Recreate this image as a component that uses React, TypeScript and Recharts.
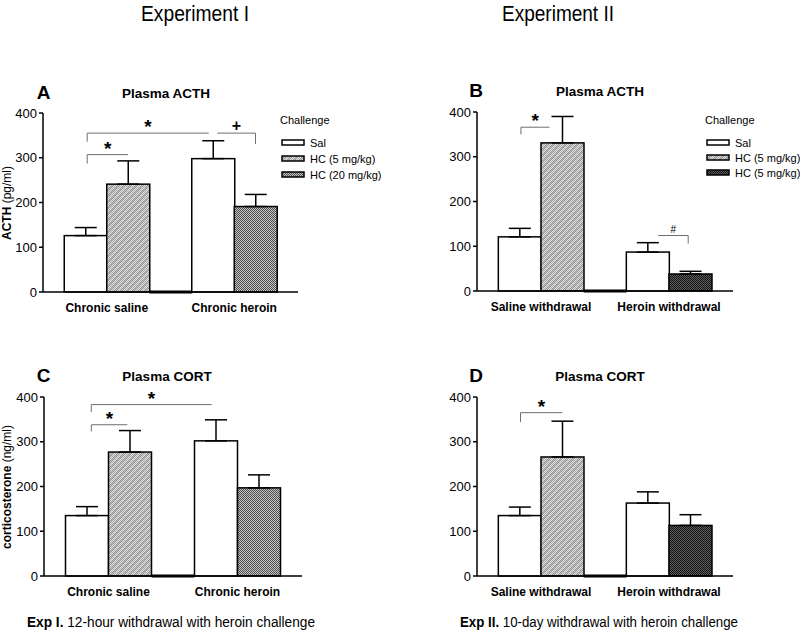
import React from 'react';
import { BarChart, Bar, XAxis, YAxis, ErrorBar, ReferenceLine, Legend, Cell } from 'recharts';

// ---------- data ----------
const positions = [0, 1, 2, 3, 4];

// Panel A: Experiment I, plasma ACTH (pg/ml)
const groupsA = ['Chronic saline', 'Chronic heroin'];
const meansA = [126, 241, 0, 298, 191];
const semA = [18, 52, 0, 40, 27];
const fillsA = ['sal', 'hc5', 'none', 'sal', 'hc20'];

// Panel B: Experiment II, plasma ACTH (pg/ml)
const groupsB = ['Saline withdrawal', 'Heroin withdrawal'];
const meansB = [121, 331, 0, 87, 38];
const semB = [19, 59, 0, 21, 6];
const fillsB = ['sal', 'hc5', 'none', 'sal', 'dark'];

// Panel C: Experiment I, corticosterone (ng/ml)
const groupsC = ['Chronic saline', 'Chronic heroin'];
const meansC = [135, 277, 0, 302, 197];
const semC = [20, 48, 0, 47, 29];
const fillsC = ['sal', 'hc5', 'none', 'sal', 'hc20'];

// Panel D: Experiment II, corticosterone (ng/ml)
const groupsD = ['Saline withdrawal', 'Heroin withdrawal'];
const meansD = [135, 266, 0, 163, 113];
const semD = [19, 80, 0, 25, 24];
const fillsD = ['sal', 'hc5', 'none', 'sal', 'dark'];

const yTicks = [0, 100, 200, 300, 400];

// significance brackets (x in bar-position units, y in data units)
const bracketsA = [
  { from: 0.04, to: 1.0, y: 307, leg: 0.04, legTo: 287, mark: '*' },
  { from: 0.04, to: 2.9, y: 355, leg: 0.04, legTo: 336, mark: '*' },
  { from: 3.1, to: 4.0, y: 355, leg: 4.0, legTo: 331, mark: '+' },
];
const bracketsB = [
  { from: 0.03, to: 0.7, y: 366, leg: 0.03, legTo: 350, mark: '*' },
  { from: 3.25, to: 3.95, y: 124, leg: 3.95, legTo: 106, mark: '#' },
];
const bracketsC = [
  { from: 0.1, to: 0.94, y: 338, leg: 0.1, legTo: 323, mark: '*' },
  { from: 0.1, to: 2.9, y: 383, leg: 0.1, legTo: 366, mark: '*' },
];
const bracketsD = [
  { from: 0.02, to: 1.0, y: 365, leg: 0.02, legTo: 344, mark: '*' },
];

const legendA = [
  { key: 'sal', label: 'Sal' },
  { key: 'hc5', label: 'HC (5 mg/kg)' },
  { key: 'hc20', label: 'HC (20 mg/kg)' },
];
const legendB = [
  { key: 'sal', label: 'Sal' },
  { key: 'hc5', label: 'HC (5 mg/kg)' },
  { key: 'dark', label: 'HC (5 mg/kg)' },
];

// ---------- styling ----------
const FONT = '"Liberation Sans", Arial, Helvetica, sans-serif';
const fillUrl: Record<string, string> = {
  sal: '#ffffff',
  hc5: 'url(#pat-hc5)',
  hc20: 'url(#pat-hc20)',
  dark: 'url(#pat-dark)',
  none: '#000000',
};

const checker = (size: number, color: string) => {
  const out: JSX.Element[] = [];
  for (let i = 0; i < size; i++) {
    for (let j = 0; j < size; j++) {
      if ((i + j) % 2 === 0) out.push(<rect key={i + '-' + j} x={i} y={j} width={1} height={1} fill={color} />);
    }
  }
  return out;
};

const Patterns = () => (
  <svg width={0} height={0} style={{ position: 'absolute' }}>
    <defs>
      <pattern id="pat-hc5" width={6} height={6} patternUnits="userSpaceOnUse">
        <rect width={6} height={6} fill="#e4e4e4" />
        {checker(6, '#a6a6a6')}
        <path d="M-1,1 L1,-1 M0,6 L6,0 M5,7 L7,5" stroke="rgba(90,90,90,0.35)" strokeWidth={1.4} />
      </pattern>
      <pattern id="pat-hc20" width={4} height={4} patternUnits="userSpaceOnUse">
        <rect width={4} height={4} fill="#c4c4c4" />
        {checker(4, '#4e4e4e')}
      </pattern>
      <pattern id="pat-dark" width={4} height={4} patternUnits="userSpaceOnUse">
        <rect width={4} height={4} fill="#5c5c5c" />
        {checker(4, '#151515')}
      </pattern>
    </defs>
  </svg>
);

const BarShape = (props: any) => {
  const { x, y, width, height, fill } = props;
  if (!height || Math.abs(height) < 0.5) {
    return <line x1={x} x2={x + width} y1={y} y2={y} stroke="#000" strokeWidth={3} />;
  }
  return <rect x={x} y={y} width={width} height={height} fill={fill} stroke="#000" strokeWidth={1.5} />;
};

type LegendItem = { key: string; label: string };
const makeLegend = (items: LegendItem[], rowGap: number) => () => (
  <svg width={130} height={80} style={{ overflow: 'visible', fontFamily: FONT }}>
    <text x={2} y={10} fontSize={11} dominantBaseline="central" fill="#000">Challenge</text>
    {items.map((it, i) => (
      <g key={i}>
        <rect x={4} y={30 + i * rowGap} width={22} height={5} fill={fillUrl[it.key]} stroke="#000" strokeWidth={1.5} />
        <text x={32} y={32.5 + i * rowGap} fontSize={11} dominantBaseline="central" fill="#000">{it.label}</text>
      </g>
    ))}
  </svg>
);

type PanelProps = {
  left: number; top: number; width: number; height: number;
  yAxisWidth: number; marginTop: number; marginRight: number;
  groups: string[]; means: number[]; sems: number[]; fills: string[];
  brackets: { from: number; to: number; y: number; leg: number; legTo: number; mark: string }[];
  legend?: LegendItem[]; legendLeft?: number; legendTop?: number; legendGap?: number;
};

const markStyle = (mark: string) => {
  if (mark === '*') return { fontSize: 19, fontWeight: 'bold', offset: 0 };
  if (mark === '+') return { fontSize: 16, fontWeight: 'bold', offset: 2 };
  return { fontSize: 10, fontWeight: 'normal', offset: 3 };
};

const Panel = (p: PanelProps) => {
  const rows = positions.map((x, i) => ({ x, mean: p.means[i], err: [0, p.sems[i]], kind: p.fills[i] }));
  return (
    <div style={{ position: 'absolute', left: p.left, top: p.top, fontFamily: FONT }}>
      <BarChart
        width={p.width}
        height={p.height}
        data={rows}
        margin={{ top: p.marginTop, right: p.marginRight, bottom: 0, left: 0 }}
        barCategoryGap={0}
        barGap={0}
      >
        <XAxis
          type="number"
          dataKey="x"
          domain={[-1, 5]}
          ticks={[0.5, 3.5]}
          interval={0}
          tickFormatter={(v: number) => (v < 2 ? p.groups[0] : p.groups[1])}
          tickLine={false}
          tickMargin={5}
          height={28}
          axisLine={{ stroke: '#000', strokeWidth: 1.5 }}
          tick={{ fill: '#000', fontSize: 12, fontWeight: 'bold' }}
        />
        <YAxis
          type="number"
          domain={[0, 400]}
          ticks={yTicks}
          interval={0}
          width={p.yAxisWidth}
          tickSize={4}
          tickMargin={2}
          axisLine={{ stroke: '#000', strokeWidth: 1.5 }}
          tickLine={{ stroke: '#000', strokeWidth: 1.5 }}
          tick={{ fill: '#000', fontSize: 13 }}
        />
        <Bar dataKey="mean" isAnimationActive={false} shape={BarShape}>
          {rows.map((r, i) => (
            <Cell key={i} fill={fillUrl[r.kind]} />
          ))}
          <ErrorBar dataKey="err" width={11} stroke="#000" strokeWidth={1.5} direction="y" />
        </Bar>
        {p.brackets.map((b, i) => {
          const ms = markStyle(b.mark);
          return (
            <ReferenceLine
              key={'h' + i}
              segment={[{ x: b.from, y: b.y }, { x: b.to, y: b.y }]}
              stroke="#6e6e6e"
              strokeWidth={1}
              ifOverflow="visible"
              label={{ value: b.mark, position: 'top', offset: ms.offset, fontSize: ms.fontSize, fontWeight: ms.fontWeight, fill: '#000' }}
            />
          );
        })}
        {p.brackets.map((b, i) => (
          <ReferenceLine
            key={'v' + i}
            segment={[{ x: b.leg, y: b.y }, { x: b.leg, y: b.legTo }]}
            stroke="#6e6e6e"
            strokeWidth={1}
            ifOverflow="visible"
          />
        ))}
        {p.legend && (
          <Legend
            layout="vertical"
            align="center"
            verticalAlign="middle"
            content={makeLegend(p.legend, p.legendGap || 16)}
            wrapperStyle={{ left: p.legendLeft, top: p.legendTop, width: 130, height: 80 }}
          />
        )}
      </BarChart>
    </div>
  );
};

const Overlay = () => (
  <svg width={800} height={634} style={{ position: 'absolute', left: 0, top: 0, pointerEvents: 'none', fontFamily: FONT }}>
    <text x={195} y={13} fontSize={22} textAnchor="middle" dominantBaseline="central" textLength={108} lengthAdjust="spacingAndGlyphs">Experiment I</text>
    <text x={558} y={13} fontSize={22} textAnchor="middle" dominantBaseline="central" textLength={112} lengthAdjust="spacingAndGlyphs">Experiment II</text>

    <text x={43.5} y={92} fontSize={19} fontWeight="bold" textAnchor="middle" dominantBaseline="central">A</text>
    <text x={166} y={93} fontSize={13.5} fontWeight="bold" textAnchor="middle" dominantBaseline="central">Plasma ACTH</text>
    <text x={476} y={90} fontSize={19} fontWeight="bold" textAnchor="middle" dominantBaseline="central">B</text>
    <text x={600} y={91} fontSize={13.5} fontWeight="bold" textAnchor="middle" dominantBaseline="central">Plasma ACTH</text>
    <text x={43.5} y={375} fontSize={19} fontWeight="bold" textAnchor="middle" dominantBaseline="central">C</text>
    <text x={167} y={376} fontSize={13.5} fontWeight="bold" textAnchor="middle" dominantBaseline="central">Plasma CORT</text>
    <text x={476} y={375} fontSize={19} fontWeight="bold" textAnchor="middle" dominantBaseline="central">D</text>
    <text x={600} y={376} fontSize={13.5} fontWeight="bold" textAnchor="middle" dominantBaseline="central">Plasma CORT</text>

    <text transform="translate(7,203) rotate(-90)" fontSize={12} textAnchor="middle" dominantBaseline="central">
      <tspan fontWeight="bold">ACTH</tspan> (pg/ml)
    </text>
    <text transform="translate(7,487) rotate(-90)" fontSize={12} textAnchor="middle" dominantBaseline="central">
      <tspan fontWeight="bold">corticosterone</tspan>  (ng/ml)
    </text>

    <text x={27} y={622} fontSize={14} dominantBaseline="central" textLength={288} lengthAdjust="spacingAndGlyphs">
      <tspan fontWeight="bold">Exp I.</tspan> 12-hour withdrawal with heroin challenge
    </text>
    <text x={460} y={622} fontSize={14} dominantBaseline="central" textLength={278} lengthAdjust="spacingAndGlyphs">
      <tspan fontWeight="bold">Exp II.</tspan> 10-day withdrawal with heroin challenge
    </text>
  </svg>
);

export default function App() {
  return (
    <div style={{ position: 'absolute', left: 0, top: 0, width: 800, height: 634, background: '#fff', overflow: 'hidden', fontFamily: FONT }}>
      <Patterns />
      <Panel left={0} top={70} width={400} height={250} yAxisWidth={43} marginTop={43} marginRight={102}
        groups={groupsA} means={meansA} sems={semA} fills={fillsA} brackets={bracketsA}
        legend={legendA} legendLeft={278} legendTop={40} legendGap={16} />
      <Panel left={400} top={70} width={400} height={249} yAxisWidth={77} marginTop={42} marginRight={67}
        groups={groupsB} means={meansB} sems={semB} fills={fillsB} brackets={bracketsB}
        legend={legendB} legendLeft={303} legendTop={40} legendGap={15} />
      <Panel left={0} top={320} width={400} height={284} yAxisWidth={44} marginTop={77} marginRight={98}
        groups={groupsC} means={meansC} sems={semC} fills={fillsC} brackets={bracketsC} />
      <Panel left={400} top={320} width={400} height={284} yAxisWidth={77} marginTop={77} marginRight={67}
        groups={groupsD} means={meansD} sems={semD} fills={fillsD} brackets={bracketsD} />
      <Overlay />
    </div>
  );
}
